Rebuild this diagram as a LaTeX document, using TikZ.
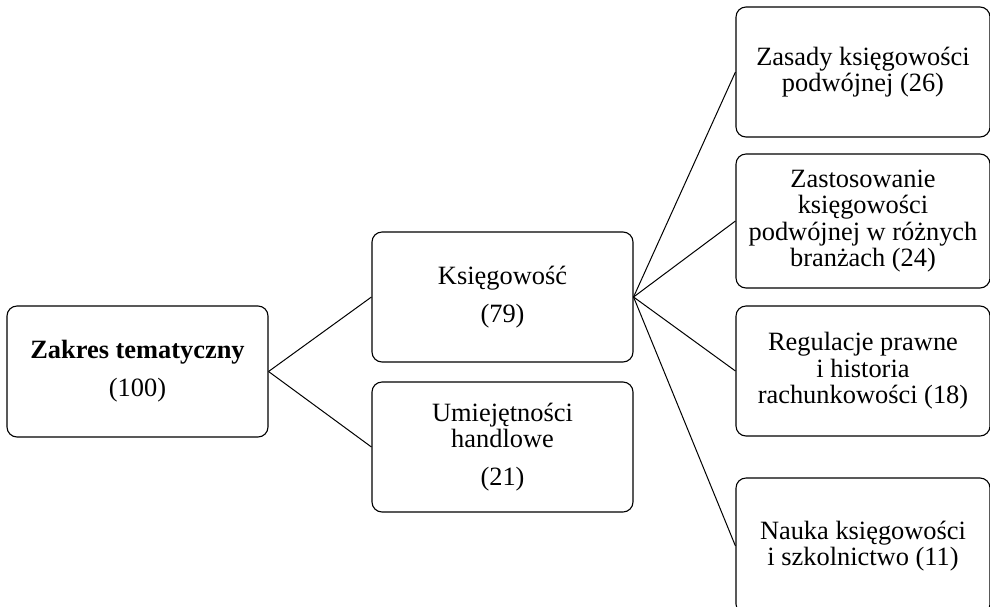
\documentclass[tikz,border=0pt]{standalone}
\usepackage{fontspec}
\setmainfont{Liberation Serif}
\tikzset{
  box/.style={draw=black, rounded corners=10pt, line width=1.1pt, inner sep=0pt,
    align=center, font=\fontsize{26.4}{26.5}\selectfont},
  leftbox/.style={box, minimum width=261pt, minimum height=130pt},
  rightbox/.style={box, minimum width=254pt, minimum height=130pt},
  link/.style={draw=black, line width=1pt}
}
\begin{document}
\begin{tikzpicture}[x=1pt,y=-1pt]
\useasboundingbox (0,0) rectangle (990,606);
\node[leftbox, minimum height=131pt] (root) at (137.5,371.5) {\textbf{Zakres tematyczny}\\[11.5pt](100)};
\node[leftbox] (ksieg) at (502.5,297) {Księgowość\\[11.5pt](79)};
\node[leftbox] (umiej) at (502.5,447) {Umiejętności\\handlowe\\[11.5pt](21)};
\node[rightbox] (zas) at (863,72) {Zasady księgowości\\podwójnej (26)};
\node[rightbox, minimum height=134pt] (zast) at (863,221) {Zastosowanie\\księgowości\\podwójnej w różnych\\branżach (24)};
\node[rightbox] (reg) at (863,371) {Regulacje prawne\\i historia\\rachunkowości (18)};
\node[rightbox, minimum height=136pt] (nauka) at (863,546) {Nauka księgowości\\i szkolnictwo (11)};
\draw[link] (root.east) -- (ksieg.west);
\draw[link] (root.east) -- (umiej.west);
\draw[link] (ksieg.east) -- (zas.west);
\draw[link] (ksieg.east) -- (zast.west);
\draw[link] (ksieg.east) -- (reg.west);
\draw[link] (ksieg.east) -- (nauka.west);
\end{tikzpicture}
\end{document}
